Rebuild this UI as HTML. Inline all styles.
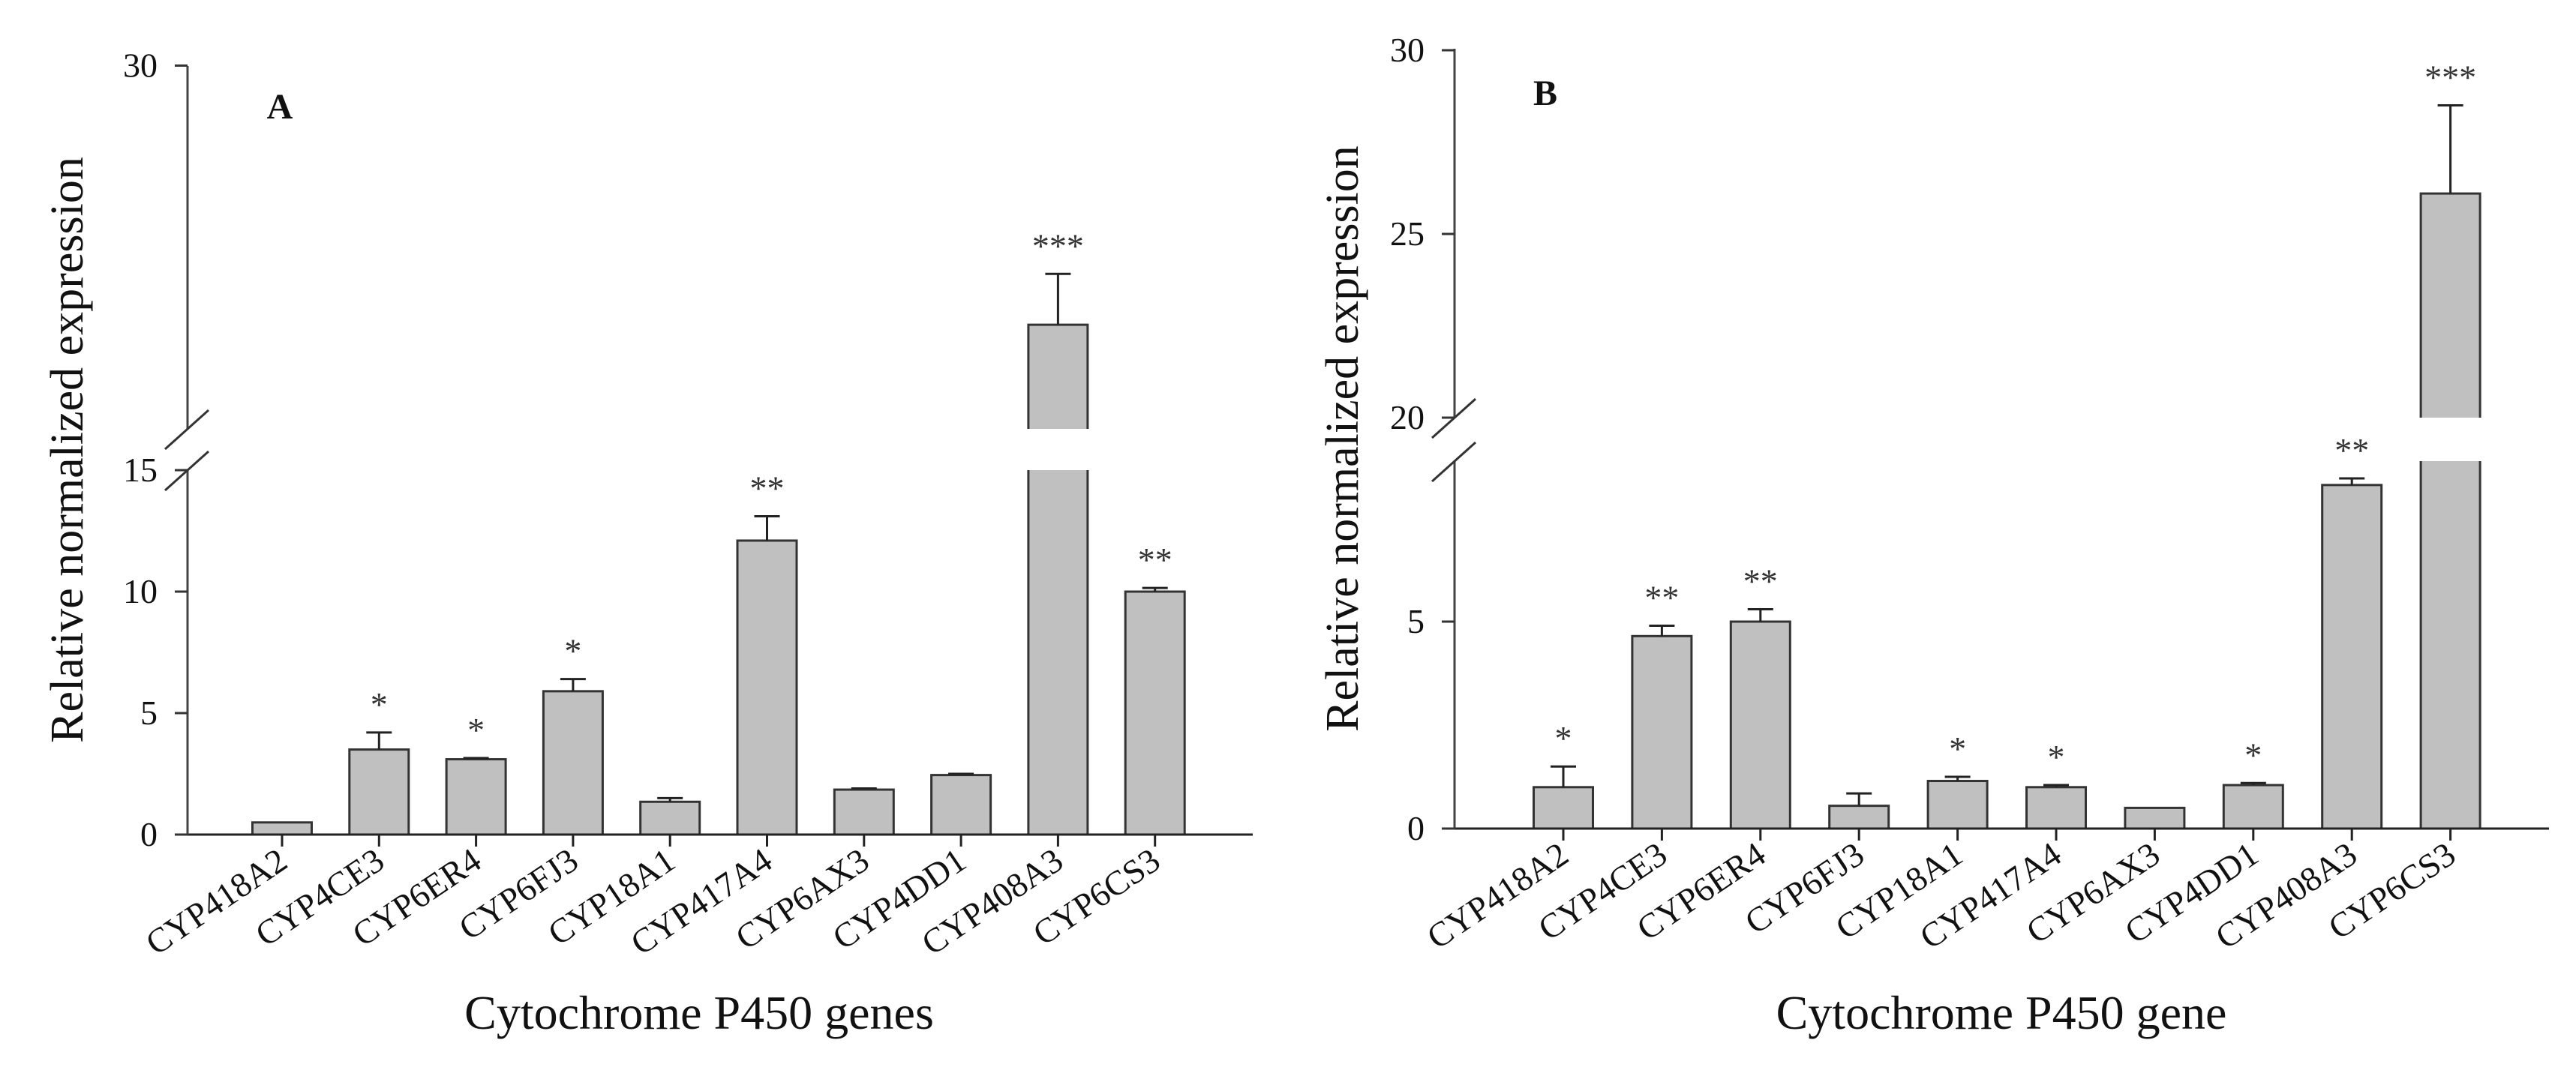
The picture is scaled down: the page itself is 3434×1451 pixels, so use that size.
<!DOCTYPE html>
<html><head><meta charset="utf-8"><style>
html,body{margin:0;padding:0;background:#fff;}
svg{display:block;font-family:"Liberation Serif",serif;}
</style></head><body>
<svg id="chart" width="3434" height="1451" viewBox="0 0 3434 1451" xmlns="http://www.w3.org/2000/svg"></svg>
<script>
const categories = ["CYP418A2","CYP4CE3","CYP6ER4","CYP6FJ3","CYP18A1","CYP417A4","CYP6AX3","CYP4DD1","CYP408A3","CYP6CS3"];
const valuesA = [0.5, 3.5, 3.1, 5.9, 1.35, 12.1, 1.85, 2.45, 19.3, 10.0];
const errorsA = [0.0, 0.7, 0.05, 0.5, 0.15, 1.0, 0.05, 0.05, 2.1, 0.15];
const starsA = ["", "*", "*", "*", "", "**", "", "", "***", "**"];
const valuesB = [1.0, 4.65, 5.0, 0.55, 1.15, 1.0, 0.5, 1.05, 8.3, 26.1];
const errorsB = [0.5, 0.25, 0.3, 0.3, 0.1, 0.05, 0.0, 0.05, 0.16, 2.4];
const starsB = ["*", "**", "**", "", "*", "*", "", "*", "**", "***"];
const ticksLowA = [0, 5, 10, 15];
const ticksHighA = [30];
const ticksLowB = [0, 5];
const ticksHighB = [20, 25, 30];

const NS = "http://www.w3.org/2000/svg";
const svg = document.getElementById("chart");
function mk(tag, attrs, parent) {
  const e = document.createElementNS(NS, tag);
  for (const k in attrs) e.setAttribute(k, attrs[k]);
  (parent || svg).appendChild(e);
  return e;
}

function panel(cfg) {
  const g = mk("g", {});
  
  
  const y = v => v <= cfg.lowMax ? cfg.y0 - v * cfg.uL : cfg.yHighBottom - (v - cfg.highMin) * cfg.uH;
  const x = i => cfg.cx0 + i * cfg.step;
  const bw = 79;
  cfg.values.forEach((v, i) => {
    const top = y(v);
    const bar = mk("rect", {x: x(i) - bw/2, y: top, width: bw, height: cfg.y0 - top, fill: "#c0c0c0", stroke: "#333", "stroke-width": 3}, g);
    
    
    if (v > cfg.lowMax) {
      const gap = mk("rect", {x: x(i) - bw/2 - 3, y: cfg.yHighBottom, width: bw + 6, height: cfg.yLowTop - cfg.yHighBottom, fill: "#fff"}, g);
      
      
    }
    const e = cfg.errors[i];
    if (e > 0) {
      const et = y(v + e);
      const eb = mk("path", {d: `M${x(i)} ${top} V${et} M${x(i)-17} ${et} H${x(i)+17}`, stroke: "#222", "stroke-width": 3, fill: "none"}, g);
      
      
    }
    if (cfg.stars[i]) {
      const st = mk("text", {x: x(i), y: y(v + e) - 22, "text-anchor": "middle", "font-size": 46, fill: "#333"}, g);
      st.textContent = cfg.stars[i];
      
      
    }
    mk("line", {x1: x(i), x2: x(i), y1: cfg.y0, y2: cfg.y0 + 16, stroke: "#222", "stroke-width": 3}, g);
    const lx = x(i) + 10, ly = cfg.y0 + 42;
    const lab = mk("text", {x: lx, y: ly, "text-anchor": "end", "font-size": 46, fill: "#111", transform: `rotate(-34 ${lx} ${ly})`}, g);
    lab.textContent = categories[i];
    
    
  });
  const xa = mk("line", {x1: cfg.ax - 1, x2: cfg.xEnd, y1: cfg.y0, y2: cfg.y0, stroke: "#222", "stroke-width": 3}, g);
  
  
  const ya = mk("path", {d: `M${cfg.ax} ${cfg.y0} V${cfg.yLowTop} M${cfg.ax} ${cfg.yHighBottom} V${cfg.yTop}`, stroke: "#444", "stroke-width": 3, fill: "none"}, g);
  
  
  const br = mk("path", {d: `M${cfg.ax-30} ${cfg.yLowTop+27} L${cfg.ax+28} ${cfg.yLowTop-25} M${cfg.ax-30} ${cfg.yHighBottom+27} L${cfg.ax+28} ${cfg.yHighBottom-25}`, stroke: "#333", "stroke-width": 3, fill: "none"}, g);
  
  
  cfg.ticksLow.concat(cfg.ticksHigh).forEach(t => {
    const ty = y(t);
    mk("line", {x1: cfg.ax - 17, x2: cfg.ax, y1: ty, y2: ty, stroke: "#333", "stroke-width": 3}, g);
    const tl = mk("text", {x: cfg.ax - 40, y: ty + 15, "text-anchor": "end", "font-size": 46, fill: "#111"}, g);
    tl.textContent = t;
    
    
  });
  const yt = mk("text", {x: cfg.ytx, y: cfg.yty, "text-anchor": "middle", "font-size": 62, fill: "#111", transform: `rotate(-90 ${cfg.ytx} ${cfg.yty})`}, g);
  yt.textContent = "Relative normalized expression";
  
  
  const xt = mk("text", {x: cfg.xtx, y: 1372, "text-anchor": "middle", "font-size": 64, fill: "#111"}, g);
  xt.textContent = cfg.xTitle;
  
  
  const pl = mk("text", {x: cfg.plx, y: cfg.ply, "text-anchor": "middle", "font-size": 48, "font-weight": "bold", fill: "#111"}, g);
  pl.textContent = cfg.letter;
  
  
}

panel({name: "panel-a", values: valuesA, errors: errorsA, stars: starsA, ticksLow: ticksLowA, ticksHigh: ticksHighA,
  y0: 1113, uL: 32.4, lowMax: 15, yLowTop: 627, highMin: 15, yHighBottom: 572, uH: 32.3, yTop: 88,
  ax: 250, cx0: 376, step: 129.3, xEnd: 1670, ytx: 110, yty: 600, xtx: 932, xTitle: "Cytochrome P450 genes",
  letter: "A", plx: 373, ply: 158});
panel({name: "panel-b", values: valuesB, errors: errorsB, stars: starsB, ticksLow: ticksLowB, ticksHigh: ticksHighB,
  y0: 1105, uL: 55.2, lowMax: 8.88, yLowTop: 615, highMin: 20, yHighBottom: 557, uH: 49, yTop: 65,
  ax: 1939, cx0: 2084, step: 131.4, xEnd: 3398, ytx: 1810, yty: 585, xtx: 2668, xTitle: "Cytochrome P450 gene",
  letter: "B", plx: 2060, ply: 140});
</script>
</body></html>
